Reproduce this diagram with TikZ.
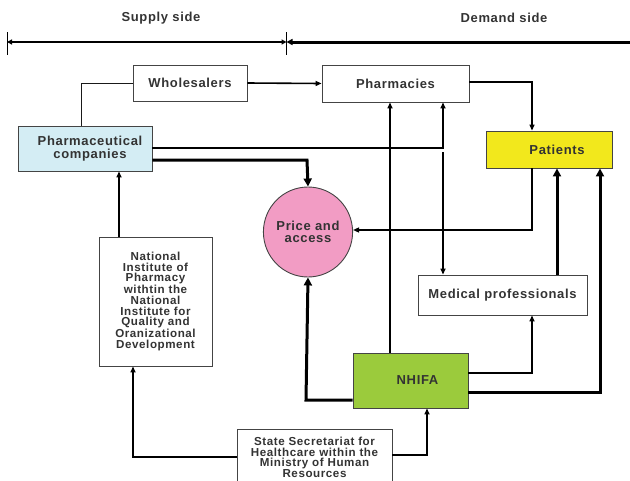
\documentclass[tikz,border=0pt]{standalone}
\usepackage{fontspec}
\setmainfont{Liberation Sans}[LetterSpace=5]
\usetikzlibrary{arrows.meta,shapes.geometric}
\definecolor{txt}{HTML}{333333}
\definecolor{edge}{HTML}{444444}
\definecolor{pharmablue}{HTML}{D4EDF4}
\definecolor{patyellow}{HTML}{F2E81C}
\definecolor{nhgreen}{HTML}{9BCB3C}
\definecolor{pink}{HTML}{F29CC4}
\tikzset{
  box/.style={draw=edge,line width=0.9pt,rectangle,inner sep=0pt,align=center,text=txt,
    font=\fontsize{13}{13}\selectfont\bfseries},
  smallbox/.style={box,font=\fontsize{11.6}{10.7}\selectfont\bfseries},
  thin/.style={line width=1pt,draw=black!90},
  med/.style={line width=1.6pt,-{Triangle[length=6pt,width=5pt]}},
  thick/.style={line width=3pt,-{Triangle[length=8pt,width=8pt]}},
  hdr/.style={font=\fontsize{13}{13}\selectfont\bfseries,text=txt}
}
\begin{document}
\begin{tikzpicture}[x=1pt,y=-1pt]
\useasboundingbox (0,0) rectangle (630,480);
% header
\node[hdr] (supply) at (161,18) {Supply side};
\node[hdr] (demand) at (504,18) {Demand side};
\coordinate (tl1) at (7,32); \coordinate (tl2) at (7,55);
\coordinate (tm1) at (286.5,32); \coordinate (tm2) at (286.5,55);
\coordinate (al) at (7,42); \coordinate (am) at (286.5,42); \coordinate (ar) at (640,42);
\draw[line width=0.8pt] (tl1) -- (tl2);
\draw[line width=0.8pt] (tm1) -- (tm2);
\draw[line width=1.8pt,{Triangle[length=5pt,width=5pt]}-{Triangle[length=5pt,width=5pt]}] (al) -- (am);
\draw[line width=3pt,{Triangle[length=6pt,width=6pt]}-] (am) -- (ar);

% nodes
\node[box,minimum width=114pt,minimum height=36pt] (whole) at (190,83) {Wholesalers};
\node[box,fill=pharmablue,minimum width=134pt,minimum height=45pt,text width=130pt] (pharma) at (85,148.5) {\hspace*{10pt}Pharmaceutical\\\hspace*{10pt}companies};
\node[box,minimum width=147pt,minimum height=37pt] (pharmacies) at (395.5,83.5) {Pharmacies};
\node[box,fill=patyellow,minimum width=126pt,minimum height=37pt] (patients) at (549,149.5) {\hspace*{16pt}Patients};
\node[ellipse,draw=edge,line width=0.9pt,fill=pink,minimum width=84pt,minimum height=90pt,inner sep=0pt,align=center,text=txt,
  font=\fontsize{13}{11.5}\selectfont\bfseries] (price) at (308,232) {Price and\\access};
\node[box,minimum width=169pt,minimum height=40pt] (medprof) at (502.5,295) {Medical professionals};
\node[box,fill=nhgreen,minimum width=115pt,minimum height=55pt] (nhifa) at (410.5,380.5) {\hspace*{14pt}NHIFA};
\node[smallbox,minimum width=113pt,minimum height=129pt,text width=110pt] (natinst) at (155.5,301.5)
  {National\\Institute of\\Pharmacy\\withtin the\\National\\Institute for\\Quality and\\Oranizational\\Development};
\node[smallbox,minimum width=155pt,minimum height=56pt,text width=150pt,anchor=north] (state) at (314.5,429)
  {State Secretariat for\\Healthcare within the\\Ministry of Human\\Resources\\[5pt]};

% connectors
\draw[thin] (pharma.north -| 81,0) -- (81,83) -- (whole.west);
\draw[med] (whole.east) -- (pharmacies.west);
\draw[line width=1.3pt,-{Triangle[length=6pt,width=5pt]}] (pharmacies.east |- 0,82) -- (532,82) -- (patients.north -| 532,0);
\draw[med] (pharma.east |- 0,148) -- (443,148) -- (pharmacies.south -| 443,0);
\coordinate (mpstart) at (443,152);
\draw[med] (mpstart) -- (medprof.north -| 443,0);
\draw[thick] (pharma.east |- 0,160) -- (307,160) -- (price.north);
\draw[med] (nhifa.north -| 390,0) -- (pharmacies.south -| 390,0);
\draw[line width=1.3pt,-{Triangle[length=6pt,width=5pt]}] (patients.south -| 532,0) -- (532,230) -- (price.east |- 0,230);
\draw[thick] (medprof.north -| 557,0) -- (patients.south -| 557,0);
\draw[med] (nhifa.east |- 0,373) -- (532,373) -- (medprof.south -| 532,0);
\draw[thick] (nhifa.east |- 0,392) -- (600,392) -- (patients.south -| 600,0);
\draw[thick] (nhifa.west |- 0,400) -- (306,400) -- (price.south);
\draw[med] (state.east |- 0,455) -- (427,455) -- (nhifa.south -| 427,0);
\draw[med] (state.west |- 0,457) -- (133,457) -- (natinst.south -| 133,0);
\draw[med] (natinst.north -| 119,0) -- (pharma.south -| 119,0);
\end{tikzpicture}
\end{document}
